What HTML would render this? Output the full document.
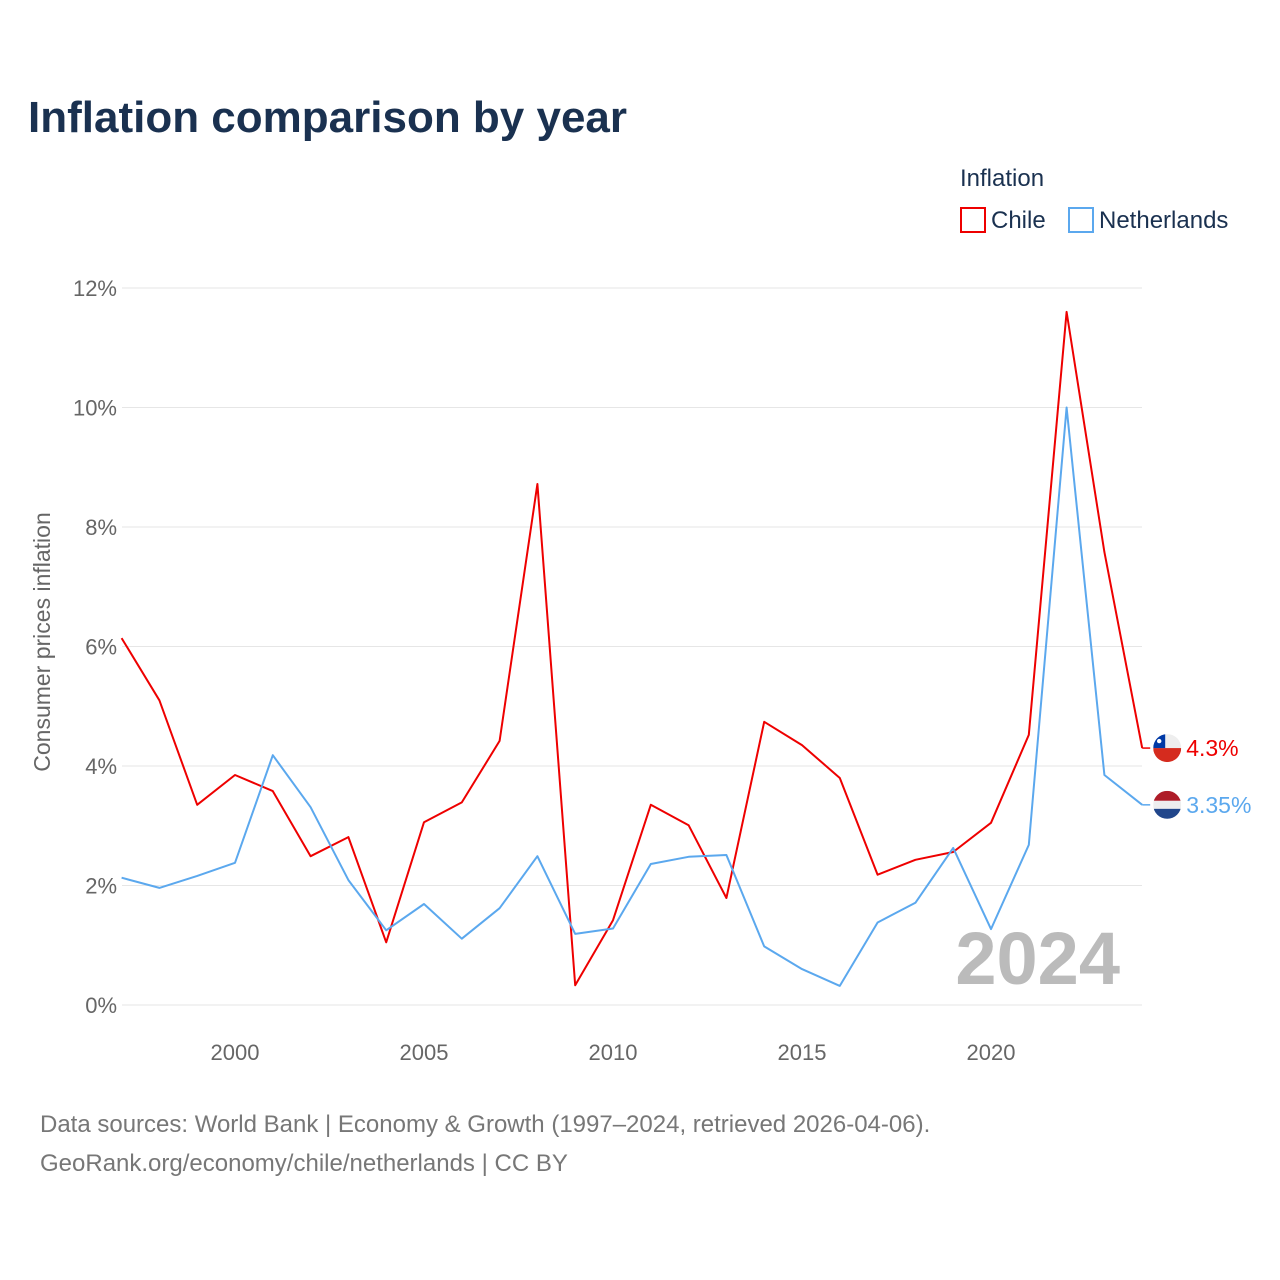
<!DOCTYPE html>
<html><head><meta charset="utf-8"><style>
body{margin:0;background:#fff;font-family:"Liberation Sans",sans-serif}
svg{display:block}
</style></head><body>
<svg id="chart" width="1280" height="1280" viewBox="0 0 1280 1280">
<text x="28" y="132" font-size="44" font-weight="bold" fill="#1a3150">Inflation comparison by year</text>
<g>
<text x="960" y="186" font-size="24" fill="#1a3150">Inflation</text>
<g><rect x="961" y="208" width="24" height="24" fill="none" stroke="#ee0000" stroke-width="2"/><text x="991" y="228" font-size="24" fill="#1a3150">Chile</text></g>
<g><rect x="1069" y="208" width="24" height="24" fill="none" stroke="#5ba8ee" stroke-width="2"/><text x="1099" y="228" font-size="24" fill="#1a3150">Netherlands</text></g>
</g>
<g id="grid"></g>
<g id="yticks"></g>
<g id="xticks"></g>
<text transform="translate(50,642) rotate(-90)" text-anchor="middle" font-size="23" fill="#666">Consumer prices inflation</text>
<text x="1120" y="984" text-anchor="end" font-size="74" font-weight="bold" fill="#bbb">2024</text>
<g id="series"></g>
<g id="endlabels"></g>
<text x="40" y="1132" font-size="24" fill="#777">Data sources: World Bank | Economy &amp; Growth (1997–2024, retrieved 2026-04-06).</text>
<text x="40" y="1171" font-size="24" fill="#777">GeoRank.org/economy/chile/netherlands | CC BY</text>
</svg>
<script>
const years=[1997,1998,1999,2000,2001,2002,2003,2004,2005,2006,2007,2008,2009,2010,2011,2012,2013,2014,2015,2016,2017,2018,2019,2020,2021,2022,2023,2024];
const chile=[6.14,5.1,3.35,3.85,3.58,2.49,2.81,1.05,3.06,3.39,4.42,8.72,0.33,1.42,3.35,3.01,1.79,4.74,4.35,3.80,2.18,2.43,2.56,3.05,4.52,11.6,7.58,4.3];
const netherlands=[2.13,1.96,2.16,2.38,4.18,3.31,2.09,1.25,1.69,1.11,1.62,2.49,1.19,1.28,2.36,2.48,2.51,0.98,0.60,0.32,1.38,1.71,2.63,1.27,2.68,10.0,3.85,3.35];
const yTicks=[0,2,4,6,8,10,12];
const xTicks=[2000,2005,2010,2015,2020];
const NS='http://www.w3.org/2000/svg';
const x=v=>121.6+(v-1997)*37.8;
const y=v=>1005-v*59.75;
function mk(t,a,p){const e=document.createElementNS(NS,t);for(const k in a)e.setAttribute(k,a[k]);p.appendChild(e);return e;}
const grid=document.getElementById('grid'),yt=document.getElementById('yticks'),xt=document.getElementById('xticks');
yTicks.forEach(v=>{
const l=mk('line',{x1:122,x2:1142,y1:y(v),y2:y(v),stroke:'#e6e6e6','stroke-width':1},grid);


const t=mk('text',{x:117,y:y(v)+8,'text-anchor':'end','font-size':22,fill:'#666'},yt);
t.textContent=v+'%';


});
xTicks.forEach(v=>{
const t=mk('text',{x:x(v),y:1060,'text-anchor':'middle','font-size':22,fill:'#666'},xt);
t.textContent=v;


});
const ser=document.getElementById('series'),el=document.getElementById('endlabels');
function draw(vals,color,name,label){
const d=vals.map((v,i)=>(i?'L':'M')+x(years[i]).toFixed(1)+','+y(v).toFixed(1)).join(' ');
const p=mk('path',{d:d,fill:'none',stroke:color,'stroke-width':2,'stroke-linejoin':'round'},ser);


const last=vals[vals.length-1],lx=x(years[years.length-1]),ly=y(last);
const s=mk('line',{x1:lx,x2:lx+8,y1:ly,y2:ly,stroke:color,'stroke-width':1.5},el);


const t=mk('text',{x:lx+44,y:ly+8,'font-size':23,fill:color},el);
t.textContent=label;


return {cx:lx+25,cy:ly};
}
const c=draw(chile,'#ee0000','chile','4.3%');
const n=draw(netherlands,'#5ba8ee','netherlands','3.35%');
// flags
function flag(cx,cy,name,stripes){
const g=mk('g',{},el);


const id='clip'+name;
const cp=mk('clipPath',{id:id},g);mk('circle',{cx:cx,cy:cy,r:14},cp);
const gg=mk('g',{'clip-path':'url(#'+id+')'},g);
stripes(gg,cx,cy);
}
flag(c.cx,c.cy,'chile',(g,cx,cy)=>{
mk('rect',{x:cx-14,y:cy-14,width:28,height:14,fill:'#eee'},g);
mk('rect',{x:cx-14,y:cy,width:28,height:14,fill:'#d52b1e'},g);
mk('rect',{x:cx-14,y:cy-14,width:12,height:14,fill:'#0039a6'},g);
mk('circle',{cx:cx-8,cy:cy-7,r:2.2,fill:'#fff'},g);
});
flag(n.cx,n.cy,'netherlands',(g,cx,cy)=>{
mk('rect',{x:cx-14,y:cy-14,width:28,height:10,fill:'#ae1c28'},g);
mk('rect',{x:cx-14,y:cy-4,width:28,height:8,fill:'#eee'},g);
mk('rect',{x:cx-14,y:cy+4,width:28,height:10,fill:'#21468b'},g);
});
</script>
</body></html>
